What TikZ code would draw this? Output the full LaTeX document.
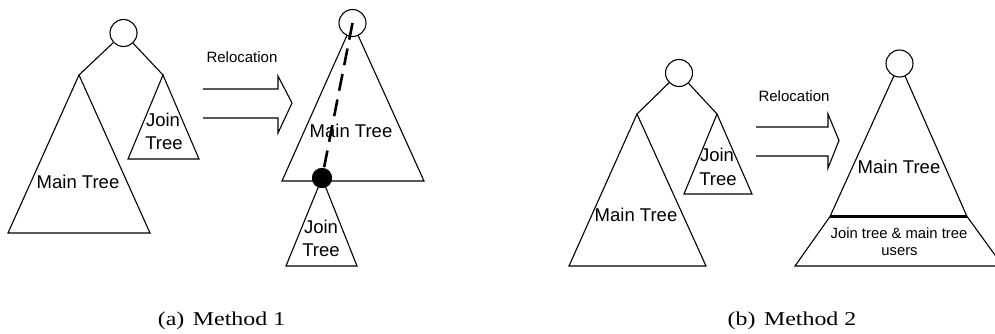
\documentclass[tikz,border=0pt]{standalone}
\usepackage{fontspec}
\usepackage{graphicx}
\setmainfont{Liberation Serif}
\setsansfont{Liberation Sans}
\begin{document}
\begin{tikzpicture}[x=1pt,y=-1pt,
  edge/.style={line width=1.1pt,line join=miter},
  rootnode/.style={circle,draw,line width=1.1pt,fill=white,minimum size=27pt,inner sep=0pt},
  joinnode/.style={circle,fill=black,minimum size=20pt,inner sep=0pt},
  big/.style={font=\sffamily\fontsize{18.5}{21}\selectfont,inner sep=0pt,align=center},
  small/.style={font=\sffamily\fontsize{15}{19}\selectfont,inner sep=0pt,align=center},
  captext/.style={font=\rmfamily\fontsize{19.6}{22}\selectfont,inner sep=0pt,anchor=base},
  dashline/.style={line width=2.6pt,dash pattern=on 17pt off 9pt}]
\useasboundingbox (0,0) rectangle (995,333);
\clip (0,0) rectangle (995,333);

% ---------- (a) left: before relocation ----------
\coordinate (aMa) at (79,75);
\coordinate (aMl) at (8,233);
\coordinate (aMr) at (150,233);
\coordinate (aJa) at (163,75);
\coordinate (aJl) at (128,159);
\coordinate (aJr) at (199,159);
\draw[edge] (aMa) -- (aMl) -- (aMr) -- cycle;
\draw[edge] (aJa) -- (aJl) -- (aJr) -- cycle;
\node[rootnode] (aR) at (123.5,33) {};
\draw[edge] (aR) -- (aMa);
\draw[edge] (aR) -- (aJa);
\node[big] (aMt) at (78,182) {Main Tree};
\node[big] (aJt1) at (163,120) {Join};
\node[big] (aJt2) at (164,143.5) {Tree};

% arrow (a)
\node[small] (aRel) at (242,57) {Relocation};
\coordinate (aA1) at (203,89);
\coordinate (aA7) at (203,118);
\draw[edge] (aA1) -- (278,89) -- (278,76) -- (292,103) -- (278,133) -- (278,118) -- (aA7);

% ---------- (a) right: after relocation ----------
\coordinate (bMa) at (352.5,23);
\coordinate (bMl) at (282,181);
\coordinate (bMr) at (424,181);
\coordinate (bJl) at (286,266);
\coordinate (bJr) at (357,266);
\draw[edge] (bMa) -- (bMl) -- (bMr) -- cycle;
\node[rootnode] (bR) at (352.5,23) {};
\node[joinnode] (bD) at (322,178) {};
\draw[edge] (bD.center) -- (bJl) -- (bJr) -- cycle;
\node[joinnode] at (322,178) {};
\draw[dashline] (bR.center) -- (bD.center);
\node[big] (bMt) at (351,130.5) {Main Tree};
\node[big] (bJt1) at (321,227) {Join};
\node[big] (bJt2) at (321,250) {Tree};

\node[captext] (capa) at (221.5,325) {\scalebox{1.22}[1]{(a)\hspace{7pt}Method 1}};

% ---------- (b) left: before relocation ----------
\coordinate (cMa) at (637,114);
\coordinate (cMl) at (569,266);
\coordinate (cMr) at (706,266);
\coordinate (cJa) at (717,114);
\coordinate (cJl) at (684,194);
\coordinate (cJr) at (752,194);
\draw[edge] (cMa) -- (cMl) -- (cMr) -- cycle;
\draw[edge] (cJa) -- (cJl) -- (cJr) -- cycle;
\node[rootnode] (cR) at (679,73) {};
\draw[edge] (cR) -- (cMa);
\draw[edge] (cR) -- (cJa);
\node[big] (cMt) at (636,215) {Main Tree};
\node[big] (cJt1) at (717,155) {Join};
\node[big] (cJt2) at (718,179) {Tree};

% arrow (b)
\node[small] (cRel) at (794,96) {Relocation};
\coordinate (cA1) at (756,127);
\coordinate (cA7) at (756,156);
\draw[edge] (cA1) -- (828,127) -- (828,114) -- (839,140.5) -- (828,168) -- (828,156) -- (cA7);

% ---------- (b) right: after relocation ----------
\coordinate (dMa) at (899.5,63.5);
\coordinate (dMl) at (830,216.5);
\coordinate (dMr) at (967,216.5);
\coordinate (dBl) at (795,266);
\coordinate (dBr) at (1003,266);
\draw[edge] (dMl) -- (dMa) -- (dMr);
\draw[edge] (dMl) -- (dBl) -- (dBr) -- (dMr);
\draw[line width=2.2pt] (dMl) -- (dMr);
\node[rootnode] (dR) at (899.5,63.5) {};
\node[big] (dMt) at (899,167) {Main Tree};
\node[small,font=\sffamily\fontsize{14.8}{19}\selectfont] (dJt1) at (899,233) {Join tree \& main tree};
\node[small,font=\sffamily\fontsize{14.8}{19}\selectfont] (dJt2) at (899.5,252) {users};

\node[captext] (capb) at (792,325) {\scalebox{1.22}[1]{(b)\hspace{7pt}Method 2}};
\end{tikzpicture}
\end{document}
